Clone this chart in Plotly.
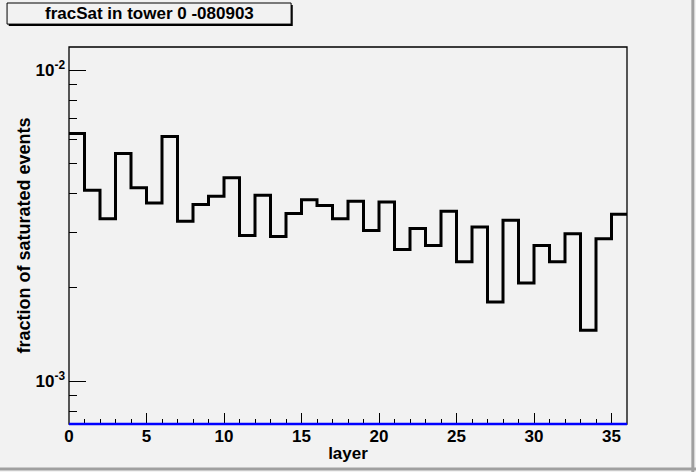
import plotly.graph_objects as go

# fraction of saturated events per layer, tower 0, run 080903
layers = list(range(36))
frac_sat = [6.25e-3, 4.11e-3, 3.33e-3, 5.39e-3, 4.19e-3, 3.74e-3, 6.12e-3, 3.27e-3,
            3.70e-3, 3.93e-3, 4.51e-3, 2.94e-3, 3.96e-3, 2.92e-3, 3.46e-3, 3.83e-3,
            3.67e-3, 3.33e-3, 3.79e-3, 3.05e-3, 3.77e-3, 2.65e-3, 3.10e-3, 2.73e-3,
            3.52e-3, 2.42e-3, 3.13e-3, 1.80e-3, 3.29e-3, 2.07e-3, 2.73e-3, 2.42e-3,
            2.98e-3, 1.46e-3, 2.87e-3, 3.44e-3]

x_ticks = [0, 5, 10, 15, 20, 25, 30, 35]
y_ticks = [1e-3, 1e-2]
y_ticktext = ['10<sup>-3</sup>', '10<sup>-2</sup>']
y_minor = [k * 1e-4 for k in range(7, 10)] + [k * 1e-3 for k in range(2, 10)]

BG = '#f2f2f2'
FONT = 'Liberation Sans'

# step outline: bin edges, last value repeated to close the last bin
edges = layers + [layers[-1] + 1]
steps = frac_sat + [frac_sat[-1]]

fig = go.Figure()
fig.add_trace(go.Scatter(x=edges, y=steps, mode='lines', line_shape='hv',
                         line=dict(color='black', width=3), showlegend=False,
                         hoverinfo='skip'))

fig.update_layout(
    width=696, height=472,
    margin=dict(l=69, r=69, t=47, b=48),
    paper_bgcolor=BG, plot_bgcolor=BG,
    font=dict(family=FONT, color='black', size=16, weight='bold'),
    showlegend=False,
    xaxis=dict(range=[0, 36], tickvals=x_ticks, ticks='inside', ticklen=11,
               tickcolor='black', showgrid=False, zeroline=False, showline=False,
               automargin=False, tickfont=dict(size=17, weight='bold'),
               minor=dict(dtick=1, tick0=0, ticks='inside', ticklen=5, tickcolor='black'),
               title=dict(text='layer', standoff=2, font=dict(size=17, weight='bold'))),
    yaxis=dict(type='log', range=[-3.137, -1.926], tickvals=y_ticks, ticktext=y_ticktext,
               ticks='inside', ticklen=17, tickcolor='black', showgrid=False,
               zeroline=False, showline=False, automargin=False,
               tickfont=dict(size=17, weight='bold'), ticklabelstandoff=3,
               minor=dict(tickvals=y_minor, ticks='inside', ticklen=8, tickcolor='black'),
               title=dict(text='fraction of saturated events', standoff=0,
                          font=dict(size=18, weight='bold'))),
    shapes=[
        # frame
        dict(type='rect', xref='paper', yref='paper', x0=0, x1=1, y0=0, y1=1,
             line=dict(color='black', width=1.3), layer='above'),
        # blue bottom line
        dict(type='line', xref='paper', yref='paper', x0=0, x1=1, y0=0, y1=0,
             line=dict(color='#0000ff', width=2.5), layer='above'),
        # title box shadow + box
        dict(type='rect', xref='paper', yref='paper', x0=-0.108, x1=0.401,
             y0=1.0555, y1=1.1115, fillcolor='black', line=dict(width=0), layer='above'),
        dict(type='rect', xref='paper', yref='paper', x0=-0.111, x1=0.398,
             y0=1.0608, y1=1.1167, fillcolor=BG, line=dict(color='black', width=1),
             layer='above'),
        # canvas bevel (right / bottom)
        dict(type='line', xref='paper', yref='paper', x0=1.118, x1=1.118, y0=-0.13, y1=1.13,
             line=dict(color='#a0a0a0', width=3), layer='above'),
        dict(type='line', xref='paper', yref='paper', x0=-0.13, x1=1.13, y0=-0.1195, y1=-0.1195,
             line=dict(color='#a0a0a0', width=3), layer='above'),
    ],
    annotations=[
        dict(text='fracSat in tower 0 -080903', xref='paper', yref='paper',
             x=0.1435, y=1.0887, xanchor='center', yanchor='middle', showarrow=False,
             font=dict(size=17, weight='bold', family=FONT, color='black')),
    ],
)

# drop the browser's default body margin so the canvas sits at the window corner
fig.write_html('out.html', config={'displayModeBar': False},
               post_script="document.body.style.margin='0';")
